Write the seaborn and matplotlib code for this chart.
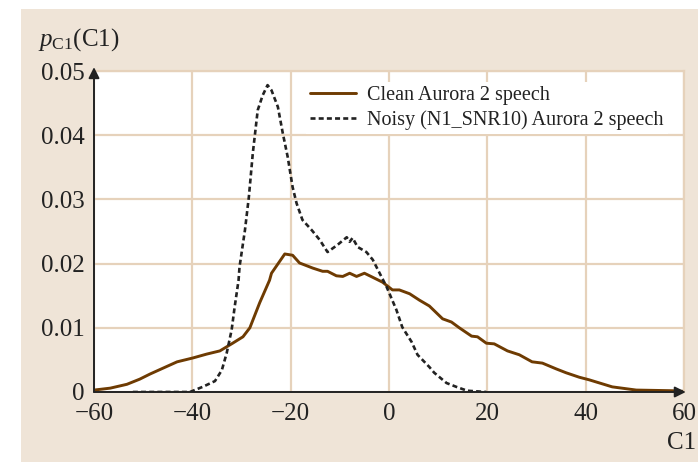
import numpy as np
import pandas as pd
import matplotlib
matplotlib.use("Agg")
import matplotlib.pyplot as plt
from matplotlib.patches import Rectangle
import seaborn as sns

# values
clean_x = [-60, -56.7, -53.3, -50.7, -48.6, -46, -43.1, -39.9, -37.1, -34.4, -31.8, -29.7,
           -28.3, -26.3, -24.3, -23.9, -21.2, -19.6, -18.2, -15.5, -13.5, -12.5, -10.7, -9.4,
           -8.0, -6.6, -5.0, -3.4, -1.3, 0.7, 2.1, 4.2, 6.2, 8.2, 10.9, 12.7, 14.3, 16.8, 18.0,
           19.8, 21.4, 24.1, 26.5, 29.1, 31.2, 34.0, 36.0, 38.7, 40.7, 45.4, 50.3, 57.6, 60]
clean_y = [0.0003, 0.0006, 0.0012, 0.0020, 0.0028, 0.0037, 0.0047, 0.0053, 0.0059, 0.0064,
           0.0076, 0.0086, 0.0100, 0.0139, 0.0174, 0.0185, 0.0215, 0.0213, 0.0201, 0.0193,
           0.0188, 0.0188, 0.0181, 0.0180, 0.0185, 0.0180, 0.0185, 0.0179, 0.0171, 0.0159,
           0.0159, 0.0153, 0.0143, 0.0134, 0.0114, 0.0109, 0.0100, 0.0087, 0.0086, 0.0076,
           0.0075, 0.0064, 0.0058, 0.0047, 0.0045, 0.0036, 0.0030, 0.0023, 0.0019, 0.0008,
           0.0003, 0.0002, 0.0001]

noisy_x = [-52.1, -40.5, -37.9, -35.4, -34.0, -33.0, -32.0, -31.4, -30.6, -30.4, -29.3, -28.5,
           -27.7, -26.7, -25.7, -24.7, -23.9, -22.6, -21.6, -20.6, -19.6, -18.8, -17.6, -15.7,
           -14.1, -12.5, -10.5, -8.6, -8.0, -7.4, -6.4, -4.6, -3.3, -1.9, -0.5, 0.5, 1.5, 2.7,
           4.6, 5.8, 8.2, 9.2, 11.7, 13.7, 15.9, 19.8]
noisy_y = [0.0, 0.0, 0.0008, 0.0017, 0.0034, 0.0061, 0.0097, 0.0132, 0.0174, 0.0195, 0.0252,
           0.0304, 0.0372, 0.0439, 0.0462, 0.0478, 0.0470, 0.0444, 0.0403, 0.0366, 0.0319,
           0.0294, 0.0268, 0.0252, 0.0237, 0.0218, 0.0229, 0.0241, 0.0234, 0.0240, 0.0226,
           0.0218, 0.0206, 0.0185, 0.0164, 0.0146, 0.0128, 0.0101, 0.0078, 0.0058, 0.0039,
           0.0030, 0.0014, 0.0008, 0.0002, 0.0]

labels = ["Clean Aurora 2 speech", "Noisy (N1_SNR10) Aurora 2 speech"]
xticks = [-60, -40, -20, 0, 20, 40, 60]
yticks = [0, 0.01, 0.02, 0.03, 0.04, 0.05]
ytick_labels = ["0", "0.01", "0.02", "0.03", "0.04", "0.05"]

BEIGE = "#efe4d7"
GRID = "#e6d2bb"
BROWN = "#6e3b02"
DARK = "#222222"

sns.set_style("white")
plt.rcParams["font.family"] = ["Liberation Serif", "DejaVu Serif"]
plt.rcParams["mathtext.fontset"] = "custom"
plt.rcParams["mathtext.rm"] = "Liberation Serif"
plt.rcParams["mathtext.it"] = "Liberation Serif:italic"

fig = plt.figure(figsize=(6.98, 4.62), dpi=100, facecolor="white")
fig.patches.append(Rectangle((21 / 698, 0), 1 - 21 / 698, 1 - 9 / 462,
                             transform=fig.transFigure, facecolor=BEIGE,
                             edgecolor="none", zorder=-10))
ax = fig.add_axes([94 / 698, 70 / 462, (684 - 94) / 698, (392 - 71) / 462])
ax.set_facecolor("white")

sns.lineplot(x=clean_x, y=clean_y, ax=ax, color=BROWN, lw=2.1, label=labels[0],
             sort=False, estimator=None)
sns.lineplot(x=noisy_x, y=noisy_y, ax=ax, color=DARK, lw=1.9, label=labels[1],
             sort=False, estimator=None, linestyle=(0, (1.9, 1.2)))

ax.set_xlim(-60, 60)
ax.set_ylim(0, 0.05)
ax.set_xticks(xticks)
ax.set_yticks(yticks)
ax.set_yticklabels(ytick_labels)
ax.tick_params(length=0, labelsize=18, colors=DARK)
ax.tick_params(axis="x", pad=8)
ax.tick_params(axis="y", pad=7)
ax.grid(True, color=GRID, lw=1.6)
ax.set_axisbelow(True)
ax.set_xlabel("")
ax.set_ylabel("")

for side in ["top", "right"]:
    ax.spines[side].set_color(GRID)
    ax.spines[side].set_linewidth(1.6)
for side in ["left", "bottom"]:
    ax.spines[side].set_visible(False)

# axis arrows
ax.annotate("", xy=(0, 1.012), xytext=(0, 0), xycoords="axes fraction",
            arrowprops=dict(arrowstyle="-|>", color=DARK, lw=1.4, mutation_scale=16,
                            shrinkA=0, shrinkB=0), annotation_clip=False)
ax.annotate("", xy=(1.003, 0), xytext=(0, 0), xycoords="axes fraction",
            arrowprops=dict(arrowstyle="-|>", color=DARK, lw=1.4, mutation_scale=16,
                            shrinkA=0, shrinkB=0), annotation_clip=False)

leg = ax.legend(loc="upper left", bbox_to_anchor=(0.342, 0.997), fontsize=14.5,
                frameon=True, facecolor="white", edgecolor="none", framealpha=1,
                fancybox=False, handlelength=2.3, handletextpad=0.55,
                labelspacing=0.25, borderpad=0.2)
for t in leg.get_texts():
    t.set_color(DARK)

fig.text(38 / 698, 1 - 40 / 462, r"$p_{\mathrm{C1}}$(C1)", fontsize=18,
         ha="left", va="center", color=DARK)
ax.text(1.02, -0.125, "C1", transform=ax.transAxes, fontsize=18, ha="right",
        va="top", color=DARK)

fig.savefig("out.png", dpi=100, facecolor=fig.get_facecolor())
